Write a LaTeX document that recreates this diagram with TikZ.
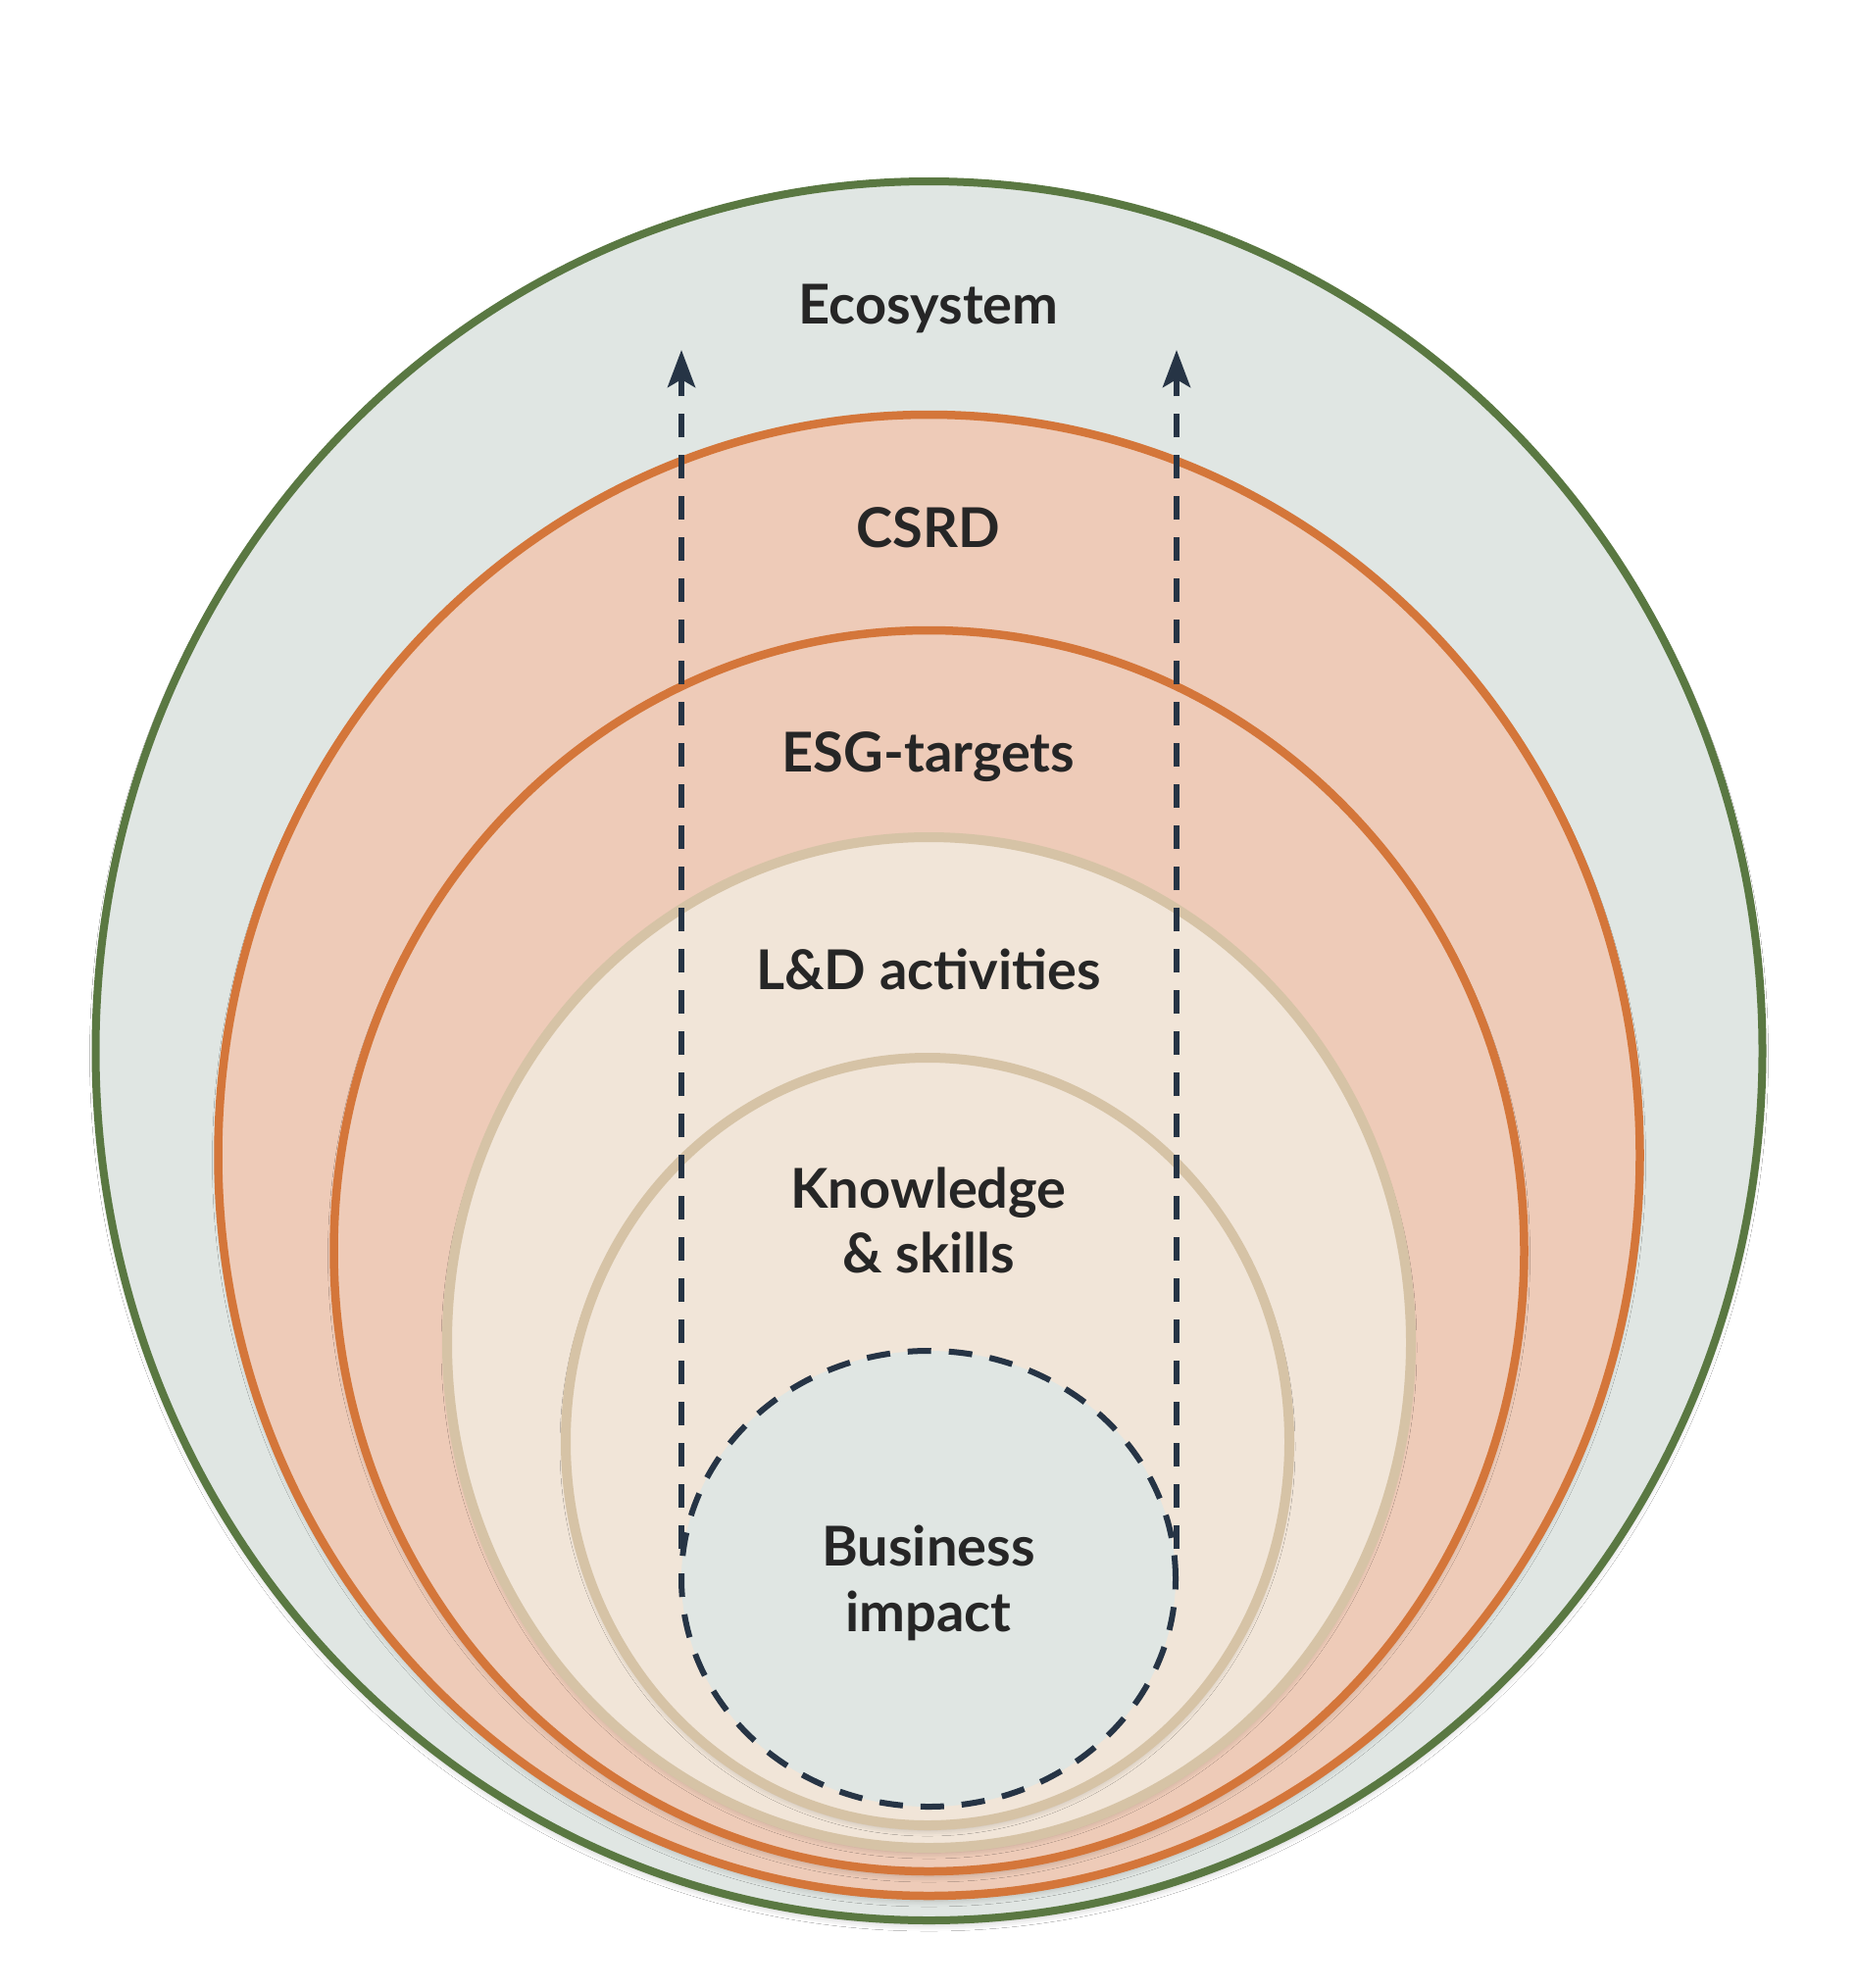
\documentclass[tikz,border=0pt]{standalone}
\usepackage{fontspec}
\setmainfont{Lato}
\usetikzlibrary{shapes.geometric,arrows.meta,shadows.blur}
\definecolor{ecoline}{HTML}{5A7842}
\definecolor{ecofill}{HTML}{E0E6E3}
\definecolor{orline}{HTML}{D4763A}
\definecolor{orfill}{HTML}{EECBB8}
\definecolor{tanline}{HTML}{D6C3A6}
\definecolor{tanfill}{HTML}{F1E5D8}
\definecolor{navy}{HTML}{263445}
\definecolor{txt}{HTML}{262626}
\tikzset{
  ring/.style={ellipse, inner sep=0pt, outer sep=0pt,
    blur shadow={shadow xshift=0pt, shadow yshift=-5pt, shadow blur radius=6pt, shadow opacity=20}},
  ecoring/.style={ring, draw=ecoline, fill=ecofill, line width=8pt},
  orring/.style={ring, draw=orline, fill=orfill, line width=8.5pt},
  tanring/.style={ring, draw=tanline, fill=tanfill, line width=10pt},
  impring/.style={ellipse, inner sep=0pt, outer sep=0pt, draw=navy, fill=ecofill,
    line width=6pt, dash pattern=on 24pt off 18pt},
  label/.style={anchor=base, text=txt, inner sep=0pt,
    font=\fontsize{56}{67}\selectfont\bfseries},
  upflow/.style={draw=navy, line width=6pt, dash pattern=on 24pt off 18pt,
    -{Stealth[length=38pt, width=28pt, inset=8pt]}}
}
\begin{document}
\begin{tikzpicture}[x=1pt, y=-1pt]
\useasboundingbox[fill=white] (0,0) rectangle (1894,2028);
\node[ecoring, minimum width=1700pt, minimum height=1774pt] (eco) at (947.5,1072) {};
\node[orring, minimum width=1450pt, minimum height=1511pt] (csrd) at (947.5,1178.5) {};
\node[orring, minimum width=1214pt, minimum height=1266pt] (esg) at (947.5,1276) {};
\node[tanring, minimum width=983pt, minimum height=1031pt] (ld) at (947.5,1369.5) {};
\node[tanring, minimum width=738pt, minimum height=783pt] (know) at (946,1470.5) {};
\node[impring, minimum width=504pt, minimum height=465pt] (imp) at (947,1610.5) {};

\node[label] (tEco) at (947,330) {Ecosystem};
\node[label] (tCsrd) at (947,558) {CSRD};
\node[label] (tEsg) at (947,787) {ESG-targets};
\node[label] (tLd) at (947,1009) {L\&D activities};
\node[label] (tKnowA) at (947,1232) {Knowledge};
\node[label] (tKnowB) at (947,1298) {\& skills};
\node[label] (tImpA) at (947,1597) {Business};
\node[label] (tImpB) at (947,1664) {impact};

\coordinate (lfrom) at (695,1580);
\coordinate (lto) at (695,357);
\coordinate (rfrom) at (1200,1580);
\coordinate (rto) at (1200,357);
\draw[upflow] (lfrom) -- (lto);
\draw[upflow] (rfrom) -- (rto);
\end{tikzpicture}
\end{document}
